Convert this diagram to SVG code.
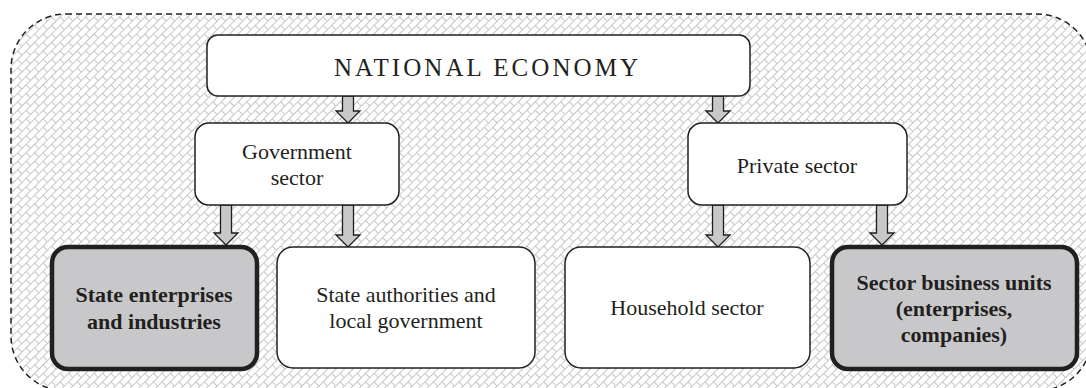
<svg xmlns="http://www.w3.org/2000/svg" width="1086" height="388" viewBox="0 0 1086 388">
<defs>
<pattern id="hatch" patternUnits="userSpaceOnUse" width="12" height="12" patternTransform="rotate(-45)">
<path d="M0,0.5 H12 M0,6.5 H12 M0.5,0.5 V6.5 M6.5,6.5 V12" fill="none" stroke="#c6c6c6" stroke-width="1"/>
</pattern>
<style>
.box{fill:#fff;stroke:#231f20;stroke-width:1.5}
.key{fill:#c8c8ca;stroke:#231f20;stroke-width:4.5}
.arr{fill:#c8c8c8;stroke:#231f20;stroke-width:1.3;stroke-linejoin:miter}
.t{font-family:"Liberation Serif","DejaVu Serif",serif;font-size:22px;fill:#231f20;text-anchor:middle}
.b{font-weight:bold}
</style>
</defs>
<rect width="1086" height="388" fill="#fff"/>
<g id="container">
<rect x="11" y="14" width="1081" height="377" rx="55" ry="55" fill="#fff"/>
<rect x="11" y="14" width="1081" height="377" rx="55" ry="55" fill="url(#hatch)" stroke="#231f20" stroke-width="1.5" stroke-dasharray="6 4"/>
</g>
<g id="connectors">
<path class="arr" d="M342.5,96 V111 H336 L348,123 L360,111 H353.5 V96 Z"/>
<path class="arr" d="M712.5,96 V111 H706 L718,123 L730,111 H723.5 V96 Z"/>
<path class="arr" d="M220.5,205 V233 H214 L226,245 L238,233 H231.5 V205 Z"/>
<path class="arr" d="M342.5,205 V235 H336 L348,247 L360,235 H353.5 V205 Z"/>
<path class="arr" d="M712.5,205 V235 H706 L718,247 L730,235 H723.5 V205 Z"/>
<path class="arr" d="M876.5,205 V233 H870 L882,245 L894,233 H887.5 V205 Z"/>
</g>
<g id="national-economy">
<rect class="box" x="207" y="35" width="543" height="61" rx="11"/>
<text class="t" x="486" y="76" style="font-size:25px" textLength="304" lengthAdjust="spacing">NATIONAL ECONOMY</text>
</g>
<g id="government-sector">
<rect class="box" x="195" y="123" width="204" height="82" rx="14"/>
<text class="t" x="297" y="159">Government</text>
<text class="t" x="297" y="185">sector</text>
</g>
<g id="private-sector">
<rect class="box" x="688" y="123" width="219" height="82" rx="14"/>
<text class="t" x="797" y="173">Private sector</text>
</g>
<g id="state-enterprises">
<rect class="key" x="52" y="247" width="205" height="122" rx="16"/>
<text class="t b" x="154" y="302">State enterprises</text>
<text class="t b" x="154" y="329">and industries</text>
</g>
<g id="state-authorities">
<rect class="box" x="277" y="247" width="258" height="121" rx="16"/>
<text class="t" x="406" y="302">State authorities and</text>
<text class="t" x="406" y="328">local government</text>
</g>
<g id="household-sector">
<rect class="box" x="565" y="247" width="245" height="121" rx="16"/>
<text class="t" x="687" y="315">Household sector</text>
</g>
<g id="sector-business-units">
<rect class="key" x="832" y="247" width="245" height="122" rx="16"/>
<text class="t b" x="954" y="290">Sector business units</text>
<text class="t b" x="954" y="316">(enterprises,</text>
<text class="t b" x="954" y="342">companies)</text>
</g>
</svg>
